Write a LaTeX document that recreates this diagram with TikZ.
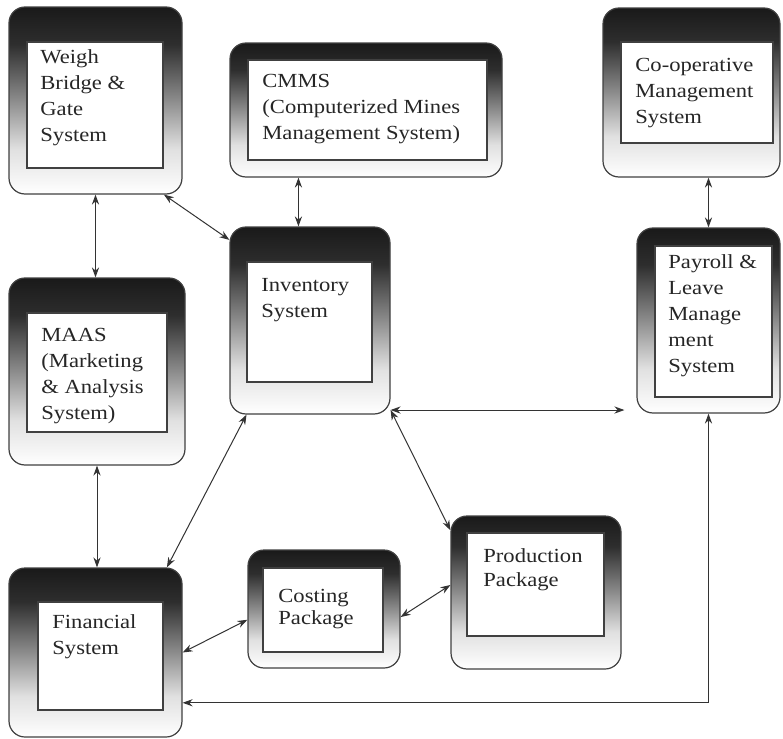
\documentclass[tikz,border=0pt]{standalone}
\usepackage{fontspec}
\setmainfont{Liberation Serif}[FakeStretch=1.13]
\usetikzlibrary{arrows.meta, fit}
\pgfdeclareverticalshading{boxfade}{100bp}{color(0bp)=(white); color(25bp)=(white); color(37bp)=(black!12); color(50bp)=(black!45); color(65bp)=(black!82); color(75bp)=(black!90); color(100bp)=(black!90)}
\tikzset{
	>={Stealth[length=5pt,width=3.6pt]},
	sysbox/.style={draw=black!75, line width=0.6pt, rounded corners=8pt, shade, shading=boxfade, inner sep=0pt},
	inbox/.style={draw=black!75, line width=0.6pt, fill=white, inner sep=0pt},
	systext/.style={anchor=north west, align=left, inner sep=0pt, text=black!85, font=\fontsize{10}{13}\selectfont},
	link/.style={<->, draw=black!80, line width=0.5pt},
}

\begin{document}
\begin{tikzpicture}[x=0.5pt, y=-0.5pt]
	\useasboundingbox (0,0) rectangle (783,739);

	\node[sysbox, fit={(9,7) (182,194)}] (weigh) {};
	\node[inbox, fit={(27,42) (163,168)}] (weighIn) {};
	\node[systext] (weighTxt) at (40,49) {Weigh\\Bridge \&\\Gate\\System};

	\node[sysbox, fit={(230,43) (502,177)}] (cmms) {};
	\node[inbox, fit={(248,60) (487,160)}] (cmmsIn) {};
	\node[systext] (cmmsTxt) at (262,74) {CMMS\\(Computerized Mines\\Management System)};

	\node[sysbox, fit={(603,8) (780,177)}] (coop) {};
	\node[inbox, fit={(621,42) (773,143)}] (coopIn) {};
	\node[systext] (coopTxt) at (635,58) {Co-operative\\Management\\System};

	\node[sysbox, fit={(230,227) (390,414)}] (inv) {};
	\node[inbox, fit={(247,262) (372,382)}] (invIn) {};
	\node[systext] (invTxt) at (261,278) {Inventory\\System};

	\node[sysbox, fit={(637,228) (780,413)}] (pay) {};
	\node[inbox, fit={(655,246) (772,397)}] (payIn) {};
	\node[systext] (payTxt) at (668,254) {Payroll \&\\Leave\\Manage\\ment\\System};

	\node[sysbox, fit={(9,278) (185,465)}] (maas) {};
	\node[inbox, fit={(27,313) (167,432)}] (maasIn) {};
	\node[systext] (maasTxt) at (41,328) {MAAS\\(Marketing\\\& Analysis\\System)};

	\node[sysbox, fit={(9,568) (182,737)}] (fin) {};
	\node[inbox, fit={(38,602) (163,710)}] (finIn) {};
	\node[systext] (finTxt) at (52,614) {Financial\\System};

	\node[sysbox, fit={(248,550) (400,668)}] (cost) {};
	\node[inbox, fit={(263,568) (383,652)}] (costIn) {};
	\node[systext, font=\fontsize{10}{11}\selectfont] (costTxt) at (278,589) {Costing\\Package};

	\node[sysbox, fit={(451,516) (621,669)}] (prod) {};
	\node[inbox, fit={(467,533) (604,636)}] (prodIn) {};
	\node[systext, font=\fontsize{10}{12}\selectfont] (prodTxt) at (483,548) {Production\\Package};

	% links between the systems
	\draw[link] (weigh.south) -- (weigh.south |- maas.north);
	\draw[link] (maas.south) -- (maas.south |- fin.north);
	\draw[link] (weigh.-54) -- (inv.135.5);
	\draw[link] (inv.97.9) -- (inv.97.9 |- cmms.south);
	\draw[link] (pay.north) -- (pay.north |- coop.south);
	\draw[link, shorten >=6pt] (inv.-48) -- (inv.-48 -| pay.west);
	\draw[link] (inv.-48) -- (prod.144.6);
	\draw[link] (inv.-124.8) -- (fin.50.6);
	\draw[link] (fin.east) -- (cost.188);
	\draw[link] (cost.-6) -- (prod.175);
	\draw[link] (fin.-30) -| (pay.south);
\end{tikzpicture}
\end{document}
